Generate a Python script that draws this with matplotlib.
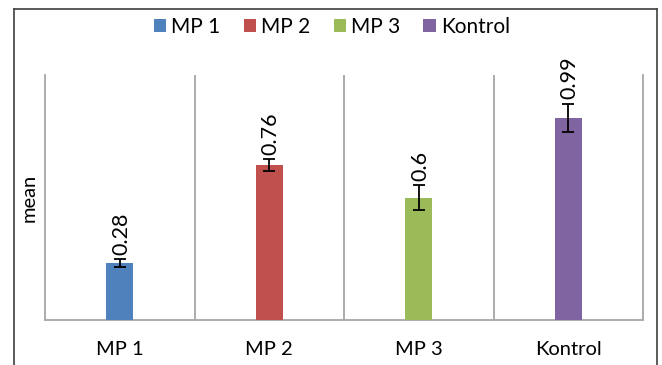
import matplotlib
matplotlib.use("Agg")
import matplotlib.pyplot as plt
from matplotlib.lines import Line2D
from matplotlib.patches import Patch

categories = ["MP 1", "MP 2", "MP 3", "Kontrol"]
means = [0.28, 0.76, 0.60, 0.99]
errors = [0.02, 0.03, 0.06, 0.07]
labels = ["0.28", "0.76", "0.6", "0.99"]
colors = ["#4F81BD", "#C0504D", "#9BBB59", "#8064A2"]

plt.rcParams['font.family'] = ['Lato', 'DejaVu Sans']
W, H = 662, 365
fig = plt.figure(figsize=(W / 100, H / 100), dpi=100)
ax = fig.add_axes([45 / W, 1 - 320 / H, (643 - 45) / W, (320 - 75) / H])

x = list(range(len(categories)))
ax.bar(x, means, width=0.18, color=colors, zorder=3)
ax.errorbar(x, means, yerr=errors, fmt='none', ecolor='black',
            elinewidth=1.3, capsize=4, capthick=1.3, zorder=4)
for xi, m, e, lab in zip(x, means, errors, labels):
    ax.annotate(lab, (xi, m + e), xytext=(1, 3), textcoords='offset points',
                rotation=90, ha='center', va='bottom', fontsize=15.5)

ax.set_xlim(-0.5, len(categories) - 0.5)
ax.set_ylim(0, 1.2)
for b in [0.5, 1.5, 2.5]:
    ax.axvline(b, color='#A6A6A6', lw=1.3, zorder=1)
for s in ['left', 'right', 'bottom']:
    ax.spines[s].set_color('#A6A6A6')
    ax.spines[s].set_linewidth(1.3)
ax.spines['top'].set_visible(False)
ax.set_yticks([])
ax.set_xticks(x)
ax.set_xticklabels(categories, fontsize=14.5)
ax.tick_params(axis='x', length=0, pad=15)
ax.set_ylabel('mean', fontsize=14.5, labelpad=5)

handles = [Patch(facecolor=c, edgecolor='none') for c in colors]
fig.legend(handles, categories, loc='center', bbox_to_anchor=(332 / W, 1 - 27 / H),
           ncol=4, frameon=False, fontsize=15, handlelength=0.6, handleheight=0.6,
           handletextpad=0.25, columnspacing=1.1)

# outer chart border
bc = '#404040'
fig.add_artist(Line2D([14 / W, 14 / W], [-0.1, 1 - 8.5 / H], color=bc, lw=1.2, transform=fig.transFigure))
fig.add_artist(Line2D([14 / W, 657 / W], [1 - 8.5 / H, 1 - 8.5 / H], color=bc, lw=1.2, transform=fig.transFigure))
fig.add_artist(Line2D([657 / W, 657 / W], [-0.1, 1 - 8.5 / H], color=bc, lw=1.2, transform=fig.transFigure))

fig.savefig('out.png', dpi=100)
